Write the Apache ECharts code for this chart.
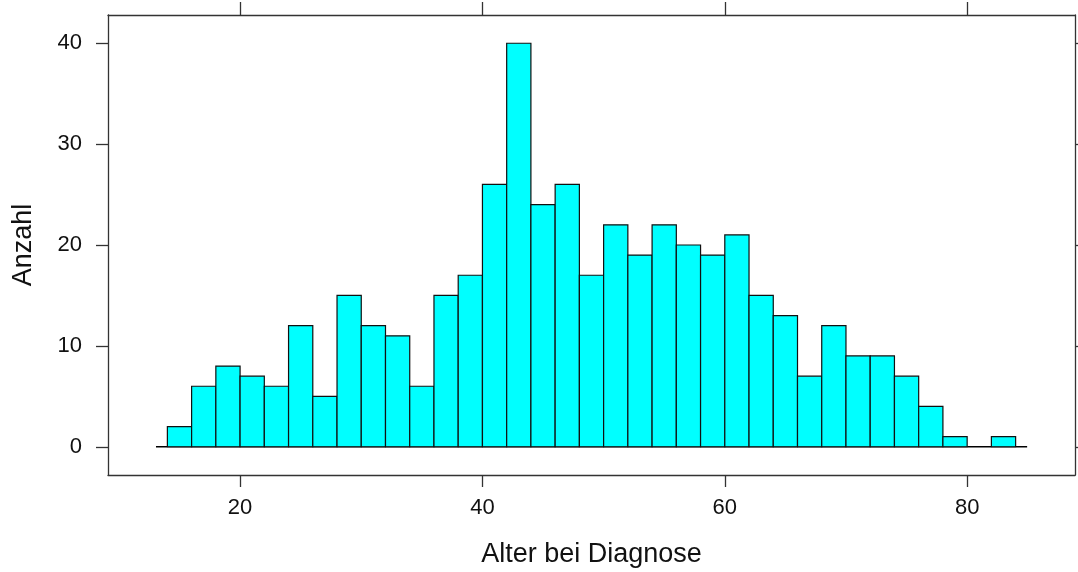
<!DOCTYPE html>
<html>
<head>
<meta charset="utf-8">
<script src="https://cdn.jsdelivr.net/npm/echarts@6/dist/echarts.min.js"></script>
<style>
html,body{margin:0;padding:0;background:#fff;}
#chart{width:1078px;height:572px;}
</style>
</head>
<body>
<div id="chart"></div>
<script>
// Histogram bins (age at diagnosis), width 2 years
const binStarts = [14,16,18,20,22,24,26,28,30,32,34,36,38,40,42,44,46,48,50,52,54,56,58,60,62,64,66,68,70,72,74,76,78,80,82];
const binEnds   = [16,18,20,22,24,26,28,30,32,34,36,38,40,42,44,46,48,50,52,54,56,58,60,62,64,66,68,70,72,74,76,78,80,82,84];
const counts    = [2,6,8,7,6,12,5,15,12,11,6,15,17,26,40,24,26,17,22,19,22,20,19,21,15,13,7,12,9,9,7,4,1,0,1];
const xTicks = [20,40,60,80];
const yTicks = [0,10,20,30,40];
const baselineX = [13.06, 84.95];

const xMin = 9.1, xMax = 88.9, yMin = -2.8, yMax = 42.8;

const binData = binStarts.map((s,i)=>[s, binEnds[i], counts[i]]);
const fontFam = '"Liberation Sans", Arial, sans-serif';

const chart = echarts.init(document.getElementById('chart'), null, {renderer:'canvas'});

const axisLineStyle = {color:'#333', width:1.3};
const tickStyle = {color:'#333', width:1.3};

chart.setOption({
  animation:false,
  backgroundColor:'#fff',
  grid:{left:108, top:15, right:3, bottom:97, containLabel:false, outerBoundsMode:'none'},
  xAxis:[{
    type:'value', min:xMin, max:xMax, position:'bottom',
    splitLine:{show:false},
    axisLine:{show:true, onZero:false, lineStyle:axisLineStyle},
    axisTick:{show:true, inside:false, length:12, lineStyle:tickStyle, customValues:xTicks},
    axisLabel:{show:true, margin:22, fontSize:22, color:'#111', fontFamily:fontFam, customValues:xTicks},
    name:'Alter bei Diagnose', nameLocation:'middle', nameGap:66,
    nameTextStyle:{fontSize:27, color:'#111', fontFamily:fontFam}
  },{
    type:'value', min:xMin, max:xMax, position:'top',
    splitLine:{show:false},
    axisLine:{show:true, onZero:false, lineStyle:axisLineStyle},
    axisTick:{show:true, inside:false, length:13, lineStyle:tickStyle, customValues:xTicks},
    axisLabel:{show:false, customValues:xTicks}
  }],
  yAxis:[{
    type:'value', min:yMin, max:yMax, position:'left',
    splitLine:{show:false},
    axisLine:{show:true, onZero:false, lineStyle:axisLineStyle},
    axisTick:{show:true, inside:false, length:12, lineStyle:tickStyle, customValues:yTicks},
    axisLabel:{show:true, margin:26, fontSize:22, color:'#111', fontFamily:fontFam, customValues:yTicks},
    name:'Anzahl', nameLocation:'middle', nameGap:71, nameRotate:90,
    nameTextStyle:{fontSize:27, color:'#111', fontFamily:fontFam}
  },{
    type:'value', min:yMin, max:yMax, position:'right',
    splitLine:{show:false},
    axisLine:{show:true, onZero:false, lineStyle:axisLineStyle},
    axisTick:{show:true, inside:false, length:12, lineStyle:tickStyle, customValues:yTicks},
    axisLabel:{show:false, customValues:yTicks}
  }],
  series:[{
    type:'line',
    xAxisIndex:0, yAxisIndex:0,
    data:[[baselineX[0],0],[baselineX[1],0]],
    symbol:'none',
    lineStyle:{color:'#000', width:1.3},
    z:1
  },{
    type:'custom',
    xAxisIndex:0, yAxisIndex:0,
    data:binData,
    encode:{x:[0,1], y:2},
    renderItem:function(params, api){
      const s = api.value(0), e = api.value(1), c = api.value(2);
      if (!c) return null;
      const p0 = api.coord([s, c]);
      const p1 = api.coord([e, 0]);
      return {
        type:'rect',
        shape:{x:p0[0], y:p0[1], width:p1[0]-p0[0], height:p1[1]-p0[1]},
        style:{fill:'#00FFFF', stroke:'#111', lineWidth:1.2}
      };
    },
    z:2
  }]
});
</script>
</body>
</html>
